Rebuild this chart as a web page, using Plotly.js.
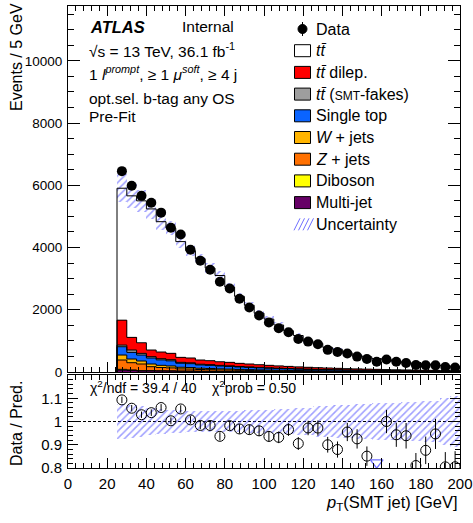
<!DOCTYPE html>
<html><head><meta charset="utf-8">
<script src="https://cdn.plot.ly/plotly-3.0.1.min.js"></script>
<style>html,body{margin:0;padding:0;background:#fff}#chart{width:473px;height:523px}</style>
</head><body><div id="chart"></div>
<script>
const binCenters = [27.5,32.5,37.5,42.5,47.5,52.5,57.5,62.5,67.5,72.5,77.5,82.5,87.5,92.5,97.5,102.5,107.5,112.5,117.5,122.5,127.5,132.5,137.5,142.5,147.5,152.5,157.5,162.5,167.5,172.5,177.5,182.5,187.5,192.5,197.5];
const dataCounts = [6454,5983,5660,5439,5120,4634,4416,3927,3578,3283,2902,2681,2352,2070,1814,1591,1407,1279,1061,977,894,711,642,592,495,417,331,400,330,291,227,219,213,161,145];
const ttbar = [4240,4548,4560,4534,4188,4020,3720,3450,3255,2976,2770,2420,2152,1888,1655,1486,1314,1145,1007,854,781,662,612,512,435,398,345,322,278,244,219,194,173,152,136];
const ttDilep = [800,406,342,214,215,205,160,155,135,128,118,112,101,94,87,80,74,68,63,58,54,50,46,42,39,36,33,31,28,26,24,22,20,19,17];
const ttFakes = [53,75,53,43,38,36,28,27,23,22,20,18,16,15,14,12,11,10,9,9,8,7,7,6,6,5,5,4,4,4,4,3,3,3,3];
const singleTop = [267,214,192,192,175,165,130,125,107,101,92,87,78,72,66,60,55,51,47,43,40,37,34,31,29,27,25,23,21,19,18,16,15,14,13];
const wJets = [160,118,96,86,70,62,52,48,40,38,34,32,28,26,23,21,19,18,16,15,13,12,11,10,9,9,8,7,7,6,6,5,5,5,4];
const zJets = [300,235,214,128,105,95,70,66,55,52,46,43,39,35,32,29,27,24,22,20,18,17,15,14,13,12,11,10,9,8,7,7,6,6,5];
const diboson = [25,10,8,7,6,6,5,5,4,4,4,4,3,3,3,3,2,2,2,2,2,2,2,2,1,1,1,1,1,1,1,1,1,1,1];
const multiJet = [60,54,35,36,33,31,25,24,21,19,16,14,13,12,10,9,8,7,6,4,4,3,3,3,3,2,2,2,2,2,1,2,2,0,1];
const uncRel = [0.075,0.07,0.065,0.06,0.055,0.05,0.05,0.045,0.045,0.045,0.045,0.045,0.045,0.05,0.05,0.05,0.055,0.055,0.06,0.06,0.065,0.065,0.07,0.07,0.075,0.075,0.08,0.08,0.08,0.085,0.085,0.09,0.09,0.1,0.11];
const legendLabels = ["Data","<i>t</i><i>t\u0304</i>","<i>t</i><i>t\u0304</i> dilep.","<i>t</i><i>t\u0304</i> (<span style='font-size:12px'>SMT</span>-fakes)","Single top","<i>W</i> + jets","<i>Z</i> + jets","Diboson","Multi-jet","Uncertainty"];

const HALF = 2.5;
const FONT = 'Liberation Sans, Arial, Helvetica, sans-serif';
// stack, bottom to top
const stack = [
  {v: multiJet, c: '#660066'},
  {v: diboson, c: '#ffff00'},
  {v: zJets, c: '#ff7000'},
  {v: wJets, c: '#ffb400'},
  {v: singleTop, c: '#0a64ff'},
  {v: ttFakes, c: '#9e9e9e'},
  {v: ttDilep, c: '#ff0000'},
  {v: ttbar, c: '#ffffff'}
];
const n = binCenters.length;
const edges = binCenters.map(c => c - HALF).concat([binCenters[n-1] + HALF]);
let cum = new Array(n).fill(0);
const traces = [];
const steps = [];
stack.forEach(s => {
  const base = cum.slice();
  traces.push({type:'bar', x: binCenters, y: s.v, base: base, width: 2*HALF, xaxis:'x', yaxis:'y',
    marker:{color: s.c, line:{width:0}}, hoverinfo:'skip'});
  cum = cum.map((b,i) => b + s.v[i]);
  const sx = [edges[0]].concat(edges.slice(0, n)).concat([edges[n]]);
  const sy = [0].concat(cum).concat([cum[n-1]]);
  steps.push({type:'scatter', mode:'lines', x: sx, y: sy, line:{shape:'hv', color:'#000', width:1}, xaxis:'x', yaxis:'y', hoverinfo:'skip'});
});
const total = cum;
traces.push(...steps);
// uncertainty band main
const patt = {shape:'/', fgcolor:'#3f3fff', bgcolor:'rgba(0,0,0,0)', size:5, solidity:0.3, fillmode:'overlay'};
traces.push({type:'bar', x: binCenters, base: total.map((t,i)=>t*(1-uncRel[i])), y: total.map((t,i)=>2*t*uncRel[i]),
  width: 2*HALF, xaxis:'x', yaxis:'y', marker:{color:'rgba(0,0,0,0)', line:{width:0}, pattern: patt}, hoverinfo:'skip'});
// data
traces.push({type:'scatter', mode:'markers', x: binCenters, y: dataCounts, xaxis:'x', yaxis:'y',
  marker:{color:'#000', size:10, symbol:'circle'}, error_y:{type:'sqrt', color:'#000', thickness:1, width:0}, hoverinfo:'skip'});
// ratio
const ratio = dataCounts.map((d,i) => d/total[i]);
const ratioErr = dataCounts.map((d,i) => Math.sqrt(d)/total[i]);
traces.push({type:'bar', x: binCenters, base: uncRel.map(r=>1-r), y: uncRel.map(r=>2*r), width: 2*HALF,
  xaxis:'x2', yaxis:'y2', marker:{color:'rgba(0,0,0,0)', line:{width:0}, pattern: patt}, hoverinfo:'skip'});
traces.push({type:'scatter', mode:'markers', x: binCenters, y: ratio.map(r => r >= 0.8 ? r : null), xaxis:'x2', yaxis:'y2',
  marker:{color:'#000', size:10, symbol:'circle-open', line:{width:1, color:'#000'}},
  error_y:{type:'data', array: ratioErr, color:'#000', thickness:1, width:0}, hoverinfo:'skip'});
const lowX = binCenters.filter((c,i) => ratio[i] < 0.8);
traces.push({type:'scatter', mode:'markers', x: lowX, y: lowX.map(()=>0.823), xaxis:'x2', yaxis:'y2', cliponaxis:false,
  marker:{color:'#6f6fff', size:11, symbol:'triangle-down-open', line:{width:1.3, color:'#6f6fff'}}, hoverinfo:'skip'});

const PL = 68, PR = 460, PT = 6, PB = 468;
const px = v => (v - PL)/(PR - PL);
const py = v => (PB - v)/(PB - PT);
const ann = [];
function txt(t, x, y, size, opts){ ann.push(Object.assign({text:t, xref:'paper', yref:'paper', x:px(x), y:py(y), xanchor:'left', yanchor:'middle', showarrow:false, font:{family:FONT, size:size, color:'#000'}}, opts||{})); }
txt('<b><i>ATLAS</i></b>', 88, 27, 16.5);
txt('Internal', 180, 27, 15.5);
txt('\u221As = 13 TeV, 36.1 fb<sup>-1</sup>', 87, 50, 15.5);
txt('1 <i>l</i><sup><i>prompt</i></sup>, \u2265 1 <i>\u03bc</i><sup><i>soft</i></sup>, \u2265 4 j', 87, 73, 15.5);
txt('opt.sel. b-tag any OS', 87, 98, 15.5);
txt('Pre-Fit', 87, 116, 15.5);
txt('\u03c7<sup>2</sup>/ndf = 39.4 / 40', 88, 387, 14);
txt('\u03c7<sup>2</sup>prob = 0.50', 210, 387, 14);
// axis titles
txt('Events / 5 GeV', 17, 1, 16, {textangle:-90, xanchor:'center', yanchor:'top'});
txt('Data / Pred.', 16, 424, 16, {textangle:-90, xanchor:'center', yanchor:'middle'});
txt('<i>p</i><sub>T</sub>(SMT jet) [GeV]', 460, 503, 16.5, {xanchor:'right'});

const shapes = [];
const rowY = [29, 50.7, 72.4, 94.1, 115.8, 137.5, 159.2, 180.9, 202.6, 224.3];
const legColors = [null, '#ffffff', '#ff0000', '#9e9e9e', '#0a64ff', '#ffb400', '#ff7000', '#ffff00', '#660066', null];
legendLabels.forEach((lab, i) => {
  txt(lab, 314, rowY[i], 16);
  const y = rowY[i];
  if (i === 0) {
    shapes.push({type:'line', xref:'paper', yref:'paper', x0:px(302.5), x1:px(302.5), y0:py(y-7), y1:py(y+7), line:{color:'#000', width:1}});
    shapes.push({type:'circle', xref:'paper', yref:'paper', x0:px(298), x1:px(307), y0:py(y-4.5), y1:py(y+4.5), fillcolor:'#000', line:{color:'#000', width:1}});
  } else if (i === 9) {
    for (let k = 0; k < 4; k++) {
      const x0 = 294 + k*4.5;
      shapes.push({type:'line', xref:'paper', yref:'paper', x0:px(x0), x1:px(x0+6), y0:py(y+6), y1:py(y-6), line:{color:'#6f6fff', width:1}});
    }
  } else {
    shapes.push({type:'rect', xref:'paper', yref:'paper', x0:px(294.5), x1:px(310.5), y0:py(y+6), y1:py(y-6), fillcolor:legColors[i], line:{color:'#000', width:1}});
  }
});
shapes.push({type:'line', xref:'x2', yref:'y2', x0:0, x1:200, y0:1, y1:1, line:{color:'#000', width:1, dash:'3px,2px'}, layer:'below'});

const axBase = {showline:true, linecolor:'#000', linewidth:1, mirror:'allticks', ticks:'inside', tickcolor:'#000', tickwidth:1,
  showgrid:false, zeroline:false, tickfont:{family:FONT, size:15, color:'#000'}};
const layout = {
  width:473, height:523, margin:{l:PL, r:473-PR, t:PT, b:523-PB},
  paper_bgcolor:'#fff', plot_bgcolor:'#fff', barmode:'overlay', bargap:0, showlegend:false,
  font:{family:FONT, color:'#000'},
  xaxis: Object.assign({}, axBase, {domain:[0,1], anchor:'y', range:[0,200], tick0:0, dtick:20, ticklen:10, showticklabels:false,
    minor:{dtick:4, tick0:0, ticklen:5, ticks:'inside', tickcolor:'#000'}}),
  yaxis: Object.assign({}, axBase, {domain:[(PB-372)/(PB-PT),1], anchor:'x', range:[0,11760], tick0:0, dtick:2000, ticklen:12, tickformat:'d',
    tickfont:{family:FONT, size:13.5, color:'#000'},
    minor:{dtick:500, tick0:0, ticklen:6, ticks:'inside', tickcolor:'#000'}, ticklabelstandoff:2}),
  xaxis2: Object.assign({}, axBase, {domain:[0,1], anchor:'y2', range:[0,200], tick0:0, dtick:20, ticklen:10, matches:'x',
    minor:{dtick:4, tick0:0, ticklen:5, ticks:'inside', tickcolor:'#000'}, ticklabelstandoff:2}),
  yaxis2: Object.assign({}, axBase, {domain:[0,(PB-375)/(PB-PT)], anchor:'x2', range:[0.8,1.2], tickvals:[0.8,0.9,1,1.1], ticktext:['0.8','0.9','1','1.1'], ticklen:10,
    minor:{dtick:0.02, tick0:0.8, ticklen:5, ticks:'inside', tickcolor:'#000'}, ticklabelstandoff:2}),
  annotations: ann, shapes: shapes
};
Plotly.newPlot('chart', traces, layout, {staticPlot:true, displayModeBar:false});
</script></body></html>
